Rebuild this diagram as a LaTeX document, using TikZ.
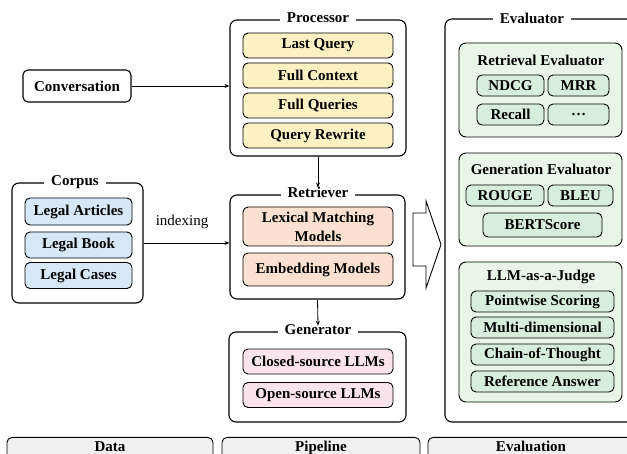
\documentclass[tikz,border=0pt]{standalone}
\usepackage{fontspec}
\setmainfont{Liberation Serif}
\usetikzlibrary{arrows.meta}
\definecolor{procfill}{HTML}{FDF0C2}
\definecolor{corpfill}{HTML}{D6E8F8}
\definecolor{retfill}{HTML}{FCE1D0}
\definecolor{genfill}{HTML}{FCE4EC}
\definecolor{evalfill}{HTML}{E8F6E8}
\definecolor{evalitem}{HTML}{D7EEDA}
\definecolor{labfill}{HTML}{F0F0F0}
\begin{document}
\begin{tikzpicture}[x=1pt,y=-1pt,
  font=\fontsize{15}{19}\selectfont\bfseries,
  outer/.style={draw, line width=1.1pt, rounded corners=7pt, inner sep=0pt},
  item/.style={draw, line width=0.9pt, rounded corners=5pt, inner sep=0pt, align=center},
  grp/.style={fill=white, inner xsep=7pt, inner ysep=1pt},
  sub/.style={draw, line width=0.9pt, rounded corners=7pt, inner sep=0pt, fill=evalfill},
  lab/.style={draw, line width=0.9pt, rounded corners=5pt, inner sep=0pt, fill=labfill, anchor=north},
  labtext/.style={anchor=base, inner sep=0pt},
  conn/.style={-{Stealth[length=5pt,width=4pt]}, line width=0.8pt}
]
\useasboundingbox (0,0) rectangle (627,454);

% Conversation
\node[item, line width=1.1pt, minimum width=108pt, minimum height=32pt] (conv) at (77,86) {Conversation};

% Processor
\node[outer, minimum width=176pt, minimum height=136pt] (proc) at (318,88) {};
\node[grp] (proct) at (318,18) {Processor};
\node[item, fill=procfill, minimum width=150pt, minimum height=25pt] (lq) at (318,45.5) {Last Query};
\node[item, fill=procfill, minimum width=150pt, minimum height=25pt] (fc) at (318,75.5) {Full Context};
\node[item, fill=procfill, minimum width=150pt, minimum height=25pt] (fq) at (318,105.5) {Full Queries};
\node[item, fill=procfill, minimum width=150pt, minimum height=25pt] (qr) at (318,135.5) {Query Rewrite};

% Retriever
\node[outer, minimum width=175pt, minimum height=104pt] (ret) at (317.5,247) {};
\node[grp] (rett) at (318,192) {Retriever};
\node[item, fill=retfill, minimum width=150pt, minimum height=39pt] (lex) at (318,226.5) {Lexical Matching\\Models};
\node[item, fill=retfill, minimum width=150pt, minimum height=33pt] (emb) at (318,269.5) {Embedding Models};

% Generator
\node[outer, minimum width=177pt, minimum height=90pt] (gen) at (317.5,377) {};
\node[grp] (gent) at (318,330) {Generator};
\node[item, fill=genfill, minimum width=150pt, minimum height=25pt] (cs) at (318,361.5) {Closed-source LLMs};
\node[item, fill=genfill, minimum width=150pt, minimum height=25pt] (os) at (318,395) {Open-source LLMs};

% Corpus
\node[outer, minimum width=131pt, minimum height=120pt] (corp) at (77.5,243) {};
\node[grp] (corpt) at (75,182) {Corpus};
\node[item, fill=corpfill, minimum width=107pt, minimum height=27pt] (la) at (78.5,211.5) {Legal Articles};
\node[item, fill=corpfill, minimum width=107pt, minimum height=26pt] (lb) at (78.5,245) {Legal Book};
\node[item, fill=corpfill, minimum width=107pt, minimum height=26pt] (lc) at (78.5,275.5) {Legal Cases};
\node[font=\fontsize{15}{19}\selectfont] (idx) at (182,222) {indexing};

% connectors
\draw[conn] (conv.east) -- (proc.west |- conv.east);
\draw[conn] (corp.east) -- (ret.west |- corp.east);
\draw[conn] (proc.south) -- ([yshift=-2pt]rett.north);
\draw[conn] (ret.south) -- ([yshift=-2pt]gent.north);

% hollow arrow
\draw[line width=0.9pt, fill=white] (413,213) -- (426,213) -- (426,201) -- (441,244.5) -- (426,288) -- (426,266) -- (413,266) -- cycle;

% Evaluator
\node[outer, minimum width=215pt, minimum height=403pt] (ev) at (552.5,220.5) {};
\node[grp] (evt) at (532,18) {Evaluator};

\node[sub, minimum width=163pt, minimum height=94pt] (re) at (540.5,90) {};
\node (ret2) at (541,60) {Retrieval Evaluator};
\node[item, fill=evalitem, minimum width=67pt, minimum height=21pt] (ndcg) at (510.5,85.5) {NDCG};
\node[item, fill=evalitem, minimum width=61pt, minimum height=21pt] (mrr) at (578.5,85.5) {MRR};
\node[item, fill=evalitem, minimum width=67pt, minimum height=21pt] (rec) at (510.5,114.5) {Recall};
\node[item, fill=evalitem, minimum width=61pt, minimum height=21pt] (dots) at (578.5,114.5) {\ldots};

\node[sub, minimum width=163pt, minimum height=93pt] (ge) at (540.5,199.5) {};
\node (get2) at (541,169) {Generation Evaluator};
\node[item, fill=evalitem, minimum width=78pt, minimum height=21pt] (rouge) at (505,195.5) {ROUGE};
\node[item, fill=evalitem, minimum width=65pt, minimum height=21pt] (bleu) at (580.5,195.5) {BLEU};
\node[item, fill=evalitem, minimum width=119pt, minimum height=24pt] (bert) at (542.5,225) {BERTScore};

\node[sub, minimum width=163pt, minimum height=140pt] (lj) at (540.5,332) {};
\node (ljt) at (541,277) {LLM-as-a-Judge};
\node[item, fill=evalitem, minimum width=143pt, minimum height=21pt] (pw) at (542.5,301.5) {Pointwise Scoring};
\node[item, fill=evalitem, minimum width=143pt, minimum height=21pt] (md) at (542.5,327.5) {Multi-dimensional};
\node[item, fill=evalitem, minimum width=143pt, minimum height=21pt] (cot) at (542.5,354.5) {Chain-of-Thought};
\node[item, fill=evalitem, minimum width=143pt, minimum height=21pt] (ra) at (542.5,381.5) {Reference Answer};

% bottom labels
\node[lab, minimum width=206pt, minimum height=40pt] (datab) at (110,437) {};
\node[labtext] (datat) at (110,451) {Data};
\node[lab, minimum width=198pt, minimum height=40pt] (pipeb) at (321,437) {};
\node[labtext] (pipet) at (321,451) {Pipeline};
\node[lab, minimum width=206pt, minimum height=40pt] (evalb) at (531,437) {};
\node[labtext] (evalt) at (531,451) {Evaluation};
\end{tikzpicture}
\end{document}
